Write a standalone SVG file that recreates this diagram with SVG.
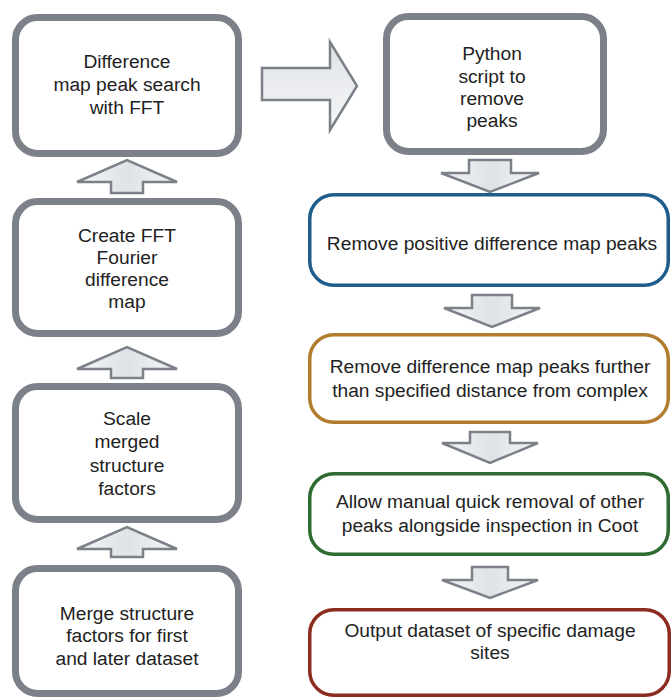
<svg xmlns="http://www.w3.org/2000/svg" width="672" height="699" viewBox="0 0 672 699">
<defs>
<linearGradient id="ag" x1="0" y1="0" x2="1" y2="0">
<stop offset="0" stop-color="#f4f5f6"/>
<stop offset="0.5" stop-color="#dfe2e6"/>
<stop offset="1" stop-color="#f4f5f6"/>
</linearGradient>
<linearGradient id="agv" x1="0" y1="0" x2="0" y2="1">
<stop offset="0" stop-color="#dfe2e6"/>
<stop offset="1" stop-color="#f6f7f8"/>
</linearGradient>
<style>
.gb{fill:#fff;stroke:#7c8189;stroke-width:7}
.cb{fill:#fff;stroke-width:3.5}
.ar{fill:url(#ag);stroke:#7c8189;stroke-width:2.5;stroke-linejoin:miter}
text{font-family:"Liberation Sans",Arial,sans-serif;font-size:19.2px;fill:#222;text-anchor:middle}
</style>
</defs>
<rect width="672" height="699" fill="#fff"/>
<g id="connectors">
<path class="ar" d="M111,193 V182 H77 L127,160 L177,182 H143 V193 Z"/>
<path class="ar" d="M111,378 V369 H77 L127,347 L177,369 H143 V378 Z"/>
<path class="ar" d="M111,557 V549 H77 L127,527 L177,549 H143 V557 Z"/>
<path class="ar" style="fill:url(#agv)" d="M262,68 H330 V42 L357,86 L330,130 V100 H262 Z"/>
<path class="ar" d="M469,160 H511 V173 H539 L490,192 L441,173 H469 Z"/>
<path class="ar" d="M472,295 H512 V308 H540 L492,327 L444,308 H472 Z"/>
<path class="ar" d="M470,432 H510 V443 H538 L490,463 L442,443 H470 Z"/>
<path class="ar" d="M472,567 H508 V580 H538 L490,598 L442,580 H472 Z"/>
</g>
<g id="n1">
<rect class="gb" x="15.5" y="17.5" width="223" height="136" rx="22"/>
<text x="127" y="68">Difference</text>
<text x="127" y="91">map peak search</text>
<text x="127" y="114">with FFT</text>
</g>
<g id="n2">
<rect class="gb" x="15.5" y="201.5" width="223" height="132" rx="22"/>
<text x="127" y="242">Create FFT</text>
<text x="127" y="264">Fourier</text>
<text x="127" y="286">difference</text>
<text x="127" y="308">map</text>
</g>
<g id="n3">
<rect class="gb" x="15.5" y="386.5" width="223" height="133" rx="22"/>
<text x="127" y="425">Scale</text>
<text x="127" y="448">merged</text>
<text x="127" y="472">structure</text>
<text x="127" y="495">factors</text>
</g>
<g id="n4">
<rect class="gb" x="15.5" y="568.5" width="223" height="125" rx="22"/>
<text x="127" y="620">Merge structure</text>
<text x="127" y="642">factors for first</text>
<text x="127" y="665">and later dataset</text>
</g>
<g id="n5">
<rect class="gb" x="386.5" y="16.5" width="217" height="135" rx="22"/>
<text x="492" y="60">Python</text>
<text x="492" y="83">script to</text>
<text x="492" y="105">remove</text>
<text x="492" y="127">peaks</text>
</g>
<g id="n6">
<rect class="cb" x="309.75" y="194.75" width="358.5" height="90.5" rx="24" stroke="#1f5d8c"/>
<text x="492" y="250">Remove positive difference map peaks</text>
</g>
<g id="n7">
<rect class="cb" x="309.75" y="334.75" width="358.5" height="87.5" rx="24" stroke="#b27c2e"/>
<text x="490" y="373">Remove difference map peaks further</text>
<text x="490" y="397">than specified distance from complex</text>
</g>
<g id="n8">
<rect class="cb" x="309.75" y="473.75" width="358.5" height="80.5" rx="24" stroke="#2f6b30"/>
<text x="490" y="508">Allow manual quick removal of other</text>
<text x="490" y="532">peaks alongside inspection in Coot</text>
</g>
<g id="n9">
<rect class="cb" x="309.75" y="609.75" width="359.5" height="85.5" rx="24" stroke="#8c2c1f"/>
<text x="490" y="637">Output dataset of specific damage</text>
<text x="490" y="659">sites</text>
</g>
</svg>
